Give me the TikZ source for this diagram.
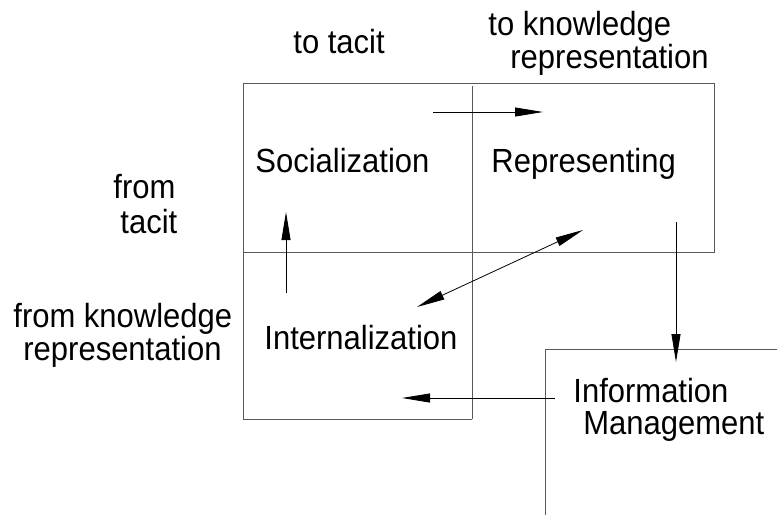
\documentclass[tikz,border=0pt]{standalone}
\usepackage{fontspec}
\setmainfont{Liberation Sans}
\usetikzlibrary{arrows.meta}
\newcommand{\tall}[1]{\scalebox{1}[1.08]{#1}}
\begin{document}
\begin{tikzpicture}[x=1pt, y=-1pt, line width=0.8pt,
    lbl/.style={anchor=base west, inner sep=0pt, font=\fontsize{31}{36}\selectfont},
    frame/.style={draw=black!65},
    flow/.style={-{Triangle[length=28pt,width=9pt]}}]
  \useasboundingbox (0,0) rectangle (777,515);
  % quadrant frames
  \draw[frame] (472,419) -- (243,419) -- (243,83) -- (714,83) -- (714,252) -- (243,252);
  \draw[frame] (472,86) -- (472,419);
  \draw[frame] (777,349) -- (545,349) -- (545,515);
  % labels
  \foreach \n/\x/\y/\t in {toTacit/293/53/to tacit, toRepA/488/35/to knowledge, toRepB/510/68/representation,
      fromTacitA/113/198/from, fromTacitB/120/233/tacit,
      fromRepA/13/327/from knowledge, fromRepB/23/360/representation,
      soc/255/172/Socialization, rep/491/172/Representing, int/264/349/Internalization,
      infoA/573/402/Information, infoB/583/434/Management}
    \node[lbl] (\n) at (\x,\y) {\tall{\t}};
  % arrow ends
  \foreach \n/\x/\y in {socOut/433/112, repIn/543/112, intOut/286/293, socIn/286/212,
      intEnd/417/307, repEnd/583/230, repOut/676/222, infoIn/676/362, infoOut/555/398, intIn/402/398}
    \coordinate (\n) at (\x,\y);
  \draw[flow] (socOut) -- (repIn);
  \draw[flow] (intOut) -- (socIn);
  \draw[{Triangle[length=28pt,width=9pt]}-{Triangle[length=28pt,width=9pt]}] (intEnd) -- (repEnd);
  \draw[flow] (repOut) -- (infoIn);
  \draw[flow] (infoOut) -- (intIn);
\end{tikzpicture}
\end{document}
